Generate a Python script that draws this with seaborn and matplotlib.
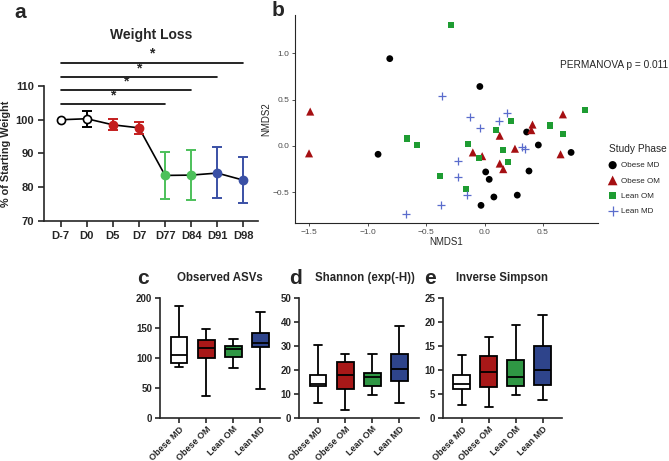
import matplotlib
matplotlib.use("Agg")
import matplotlib.pyplot as plt
import numpy as np
import pandas as pd
import seaborn as sns

sns.set_style("ticks")
plt.rcParams["font.family"] = ["Liberation Sans", "DejaVu Sans"]

# ---- panel a: weight loss ----
days = ["D-7", "D0", "D5", "D7", "D77", "D84", "D91", "D98"]
wt_mean = [100.0, 100.3, 98.5, 97.6, 83.5, 83.6, 84.2, 82.1]
wt_low = [100.0, 97.8, 97.0, 95.9, 76.6, 76.2, 76.7, 75.3]
wt_high = [100.0, 102.7, 100.1, 99.2, 90.5, 91.0, 91.8, 89.0]
wt_phase = ["Obese MD", "Obese MD", "Obese OM", "Obese OM", "Lean OM", "Lean OM", "Lean MD", "Lean MD"]
sig_end = ["D77", "D84", "D91", "D98"]
sig_y = [104.6, 108.8, 112.6, 116.9]

# ---- panel b: NMDS ----
obese_md_x = [-0.81, -0.04, -0.91, 0.36, 0.46, 0.74, 0.01, 0.04, 0.38, 0.28, 0.08, -0.03]
obese_md_y = [0.94, 0.64, -0.09, 0.15, 0.01, -0.07, -0.28, -0.36, -0.27, -0.53, -0.55, -0.64]
obese_om_x = [-1.49, -1.50, -0.10, -0.02, 0.13, 0.13, 0.16, 0.26, 0.40, 0.41, 0.67, 0.65]
obese_om_y = [0.37, -0.08, -0.07, -0.11, 0.11, -0.19, -0.25, -0.03, 0.17, 0.23, 0.34, -0.09]
lean_om_x = [-0.29, -0.66, -0.58, -0.14, -0.38, -0.16, -0.05, 0.10, 0.23, 0.16, 0.20, 0.56, 0.67, 0.86]
lean_om_y = [1.30, 0.08, 0.01, 0.02, -0.32, -0.46, -0.13, 0.17, 0.27, -0.04, -0.17, 0.22, 0.13, 0.39]
lean_md_x = [-0.36, -0.12, -0.04, 0.12, 0.19, 0.32, 0.35, -0.23, -0.23, -0.15, -0.37, -0.67]
lean_md_y = [0.54, 0.31, 0.19, 0.27, 0.35, -0.01, -0.03, -0.16, -0.33, -0.53, -0.64, -0.73]

# ---- panels c-e: alpha diversity (min, q1, median, q3, max) ----
groups = ["Obese MD", "Obese OM", "Lean OM", "Lean MD"]
observed = {
    "Obese MD": [84.4, 91.7, 104.0, 135.0, 185.6],
    "Obese OM": [37.0, 99.4, 117.0, 130.0, 147.8],
    "Lean OM": [83.3, 100.6, 114.4, 119.4, 132.0],
    "Lean MD": [48.0, 118.3, 125.0, 140.6, 175.6],
}
shannon = {
    "Obese MD": [6.1, 13.3, 13.9, 17.8, 30.4],
    "Obese OM": [3.2, 12.0, 17.8, 23.3, 26.4],
    "Lean OM": [9.4, 13.1, 17.0, 18.8, 26.7],
    "Lean MD": [6.2, 15.2, 20.3, 26.7, 38.3],
}
invsimpson = {
    "Obese MD": [2.6, 6.0, 7.1, 8.9, 13.0],
    "Obese OM": [2.2, 6.3, 9.5, 12.9, 16.9],
    "Lean OM": [4.8, 6.7, 8.4, 12.1, 19.3],
    "Lean MD": [3.7, 6.8, 10.0, 15.0, 21.3],
}

a_colors = {"Obese MD": "white", "Obese OM": "#c41e1e", "Lean OM": "#4cc05a", "Lean MD": "#3a50a5"}
box_colors = {"Obese MD": "white", "Obese OM": "#c00000", "Lean OM": "#1ea83a", "Lean MD": "#1f3c9a"}

W, H = 669, 461
fig = plt.figure(figsize=(W / 100, H / 100), dpi=100)


def px_axes(l, t, r, b):
    return fig.add_axes([l / W, 1 - b / H, (r - l) / W, (b - t) / H])


# ---------------- a ----------------
ax = px_axes(44, 86, 258, 221)
pos = list(range(len(days)))
sns.lineplot(x=pos, y=wt_mean, color="black", lw=1.2, ax=ax)
for i in pos:
    c = a_colors[wt_phase[i]]
    ec = "black" if c == "white" else c
    if wt_high[i] > wt_low[i]:
        ax.errorbar(i, wt_mean[i], yerr=[[wt_mean[i] - wt_low[i]], [wt_high[i] - wt_mean[i]]],
                    color=ec, capsize=3.5, lw=1.4, capthick=1.4, zorder=3)
    ax.scatter(i, wt_mean[i], s=34, color=c, edgecolor=ec, lw=1.2, zorder=4)
for end, y in zip(sig_end, sig_y):
    j = days.index(end)
    ax.plot([0, j], [y, y], color="black", lw=1.2, clip_on=False)
    ax.text(j / 2, y + 0.6, "*", ha="center", va="bottom", fontsize=10, fontweight="bold")
ax.set_xlim(-0.64, 7.56)
ax.set_ylim(70, 110)
ax.set_yticks([70, 80, 90, 100, 110])
ax.set_xticks(pos)
ax.set_xticklabels(days)
ax.set_ylabel("% of Starting Weight", fontsize=7.8, fontweight="bold", labelpad=3)
ax.set_title("Weight Loss", fontsize=10, fontweight="bold", pad=34)
for lab in ax.get_xticklabels() + ax.get_yticklabels():
    lab.set_fontweight("bold")
ax.tick_params(labelsize=8, width=1.2, length=4, pad=3)
for s in ["left", "bottom"]:
    ax.spines[s].set_linewidth(1.2)
sns.despine(ax=ax)

# ---------------- b ----------------
ax = px_axes(295, 15, 598, 223)
sns.scatterplot(x=obese_md_x, y=obese_md_y, marker="o", s=24, color="black", edgecolor="none",
                label="Obese MD", ax=ax)
sns.scatterplot(x=obese_om_x, y=obese_om_y, marker="^", s=34, color="#a50f12", edgecolor="none",
                label="Obese OM", ax=ax)
sns.scatterplot(x=lean_om_x, y=lean_om_y, marker="s", s=19, color="#1e9c32", edgecolor="none",
                label="Lean OM", ax=ax)
sns.scatterplot(x=lean_md_x, y=lean_md_y, marker="+", s=40, color="#5a6ccc", linewidth=0.9,
                label="Lean MD", ax=ax)
ax.set_xlim(-1.62, 0.97)
ax.set_ylim(-0.83, 1.41)
ax.set_xticks([-1.5, -1.0, -0.5, 0.0, 0.5])
ax.set_yticks([-0.5, 0.0, 0.5, 1.0])
ax.tick_params(labelsize=6, labelcolor="#4d4d4d", width=0.6, length=2.5, pad=1.5, color="#333333")
ax.set_xlabel("NMDS1", fontsize=7, labelpad=1)
ax.set_ylabel("NMDS2", fontsize=7, labelpad=1)
for s in ["left", "bottom"]:
    ax.spines[s].set_linewidth(0.8)
sns.despine(ax=ax)
ax.text(0.875, 0.76, "PERMANOVA p = 0.011", transform=ax.transAxes, fontsize=7.3, va="center")
leg = ax.legend(title="Study Phase", loc="upper left", bbox_to_anchor=(1.035, 0.38), frameon=False,
                fontsize=5.8, title_fontsize=7.3, handletextpad=0.5, labelspacing=0.95,
                borderaxespad=0, handlelength=1.0, borderpad=0, markerscale=1.2)
leg._legend_box.align = "left"

# ---------------- c, d, e ----------------
box_specs = [
    ("Observed ASVs", observed, 160, 280, [0, 50, 100, 150, 200], 0.5),
    ("Shannon (exp(-H))", shannon, 299, 419, [0, 10, 20, 30, 40, 50], 0.55),
    ("Inverse Simpson", invsimpson, 443, 562, [0, 5, 10, 15, 20, 25], 0.5),
]
for title, stats, l, r, yt, tx in box_specs:
    ax = px_axes(l, 297.7, r, 417.7)
    df = pd.DataFrame([(g, v) for g in groups for v in stats[g]], columns=["group", "value"])
    sns.boxplot(data=df, x="group", y="value", hue="group", order=groups, palette=box_colors,
                whis=(0, 100), width=0.62, linecolor="black", linewidth=1.3, legend=False, ax=ax)
    ax.set_xlim(-0.7, 3.72)
    ax.set_ylim(0, yt[-1])
    ax.set_yticks(yt)
    ax.set_xlabel("")
    ax.set_ylabel("")
    ttl = ax.set_title(title, fontsize=8.3, fontweight="bold", pad=12)
    ttl.set_x(tx)
    ax.set_xticks(range(4))
    ax.set_xticklabels(groups, rotation=45, ha="right", rotation_mode="anchor")
    for lab in ax.get_xticklabels() + ax.get_yticklabels():
        lab.set_fontweight("bold")
    ax.tick_params(labelsize=7, width=1.2, length=3.5, pad=2)
    ax.tick_params(axis="x", labelsize=6.5, pad=1.5)
    for s in ["left", "bottom"]:
        ax.spines[s].set_linewidth(1.2)
    sns.despine(ax=ax)

# panel letters
for letter, x, y in [("a", 20, 12), ("b", 278, 11), ("c", 143, 278), ("d", 295, 278), ("e", 430, 278)]:
    fig.text(x / W, 1 - y / H, letter, fontsize=15, fontweight="bold", ha="center", va="center")

fig.savefig("out.png", dpi=100)
